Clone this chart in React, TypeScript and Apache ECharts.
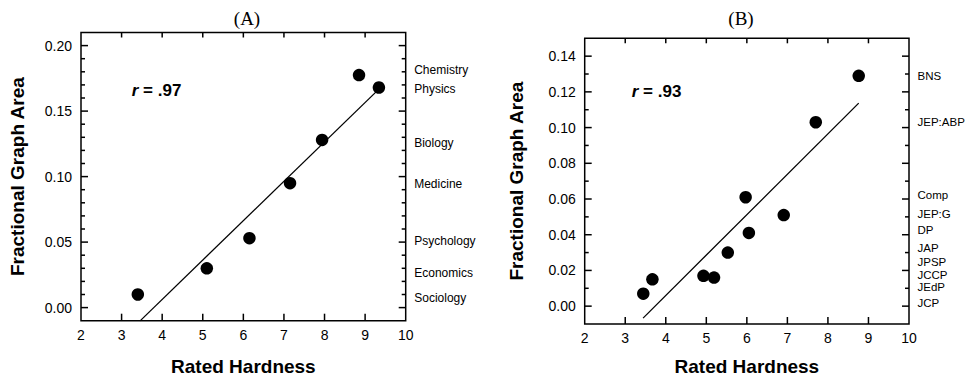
import React, { useEffect, useRef } from "react";
import * as echarts from "echarts";

// Panel A data
const hardnessA = [3.4, 5.1, 6.15, 7.15, 7.94, 8.85, 9.34];
const areaA = [0.01, 0.03, 0.053, 0.095, 0.128, 0.1775, 0.168];
const fitXA = [3.45, 9.34];
const fitYA = [-0.0103, 0.1668];
const fieldsA = ["Chemistry", "Physics", "Biology", "Medicine", "Psychology", "Economics", "Sociology"];
const fieldYA = [0.181, 0.167, 0.126, 0.094, 0.051, 0.0266, 0.0074];
const yMajorA = [0, 0.05, 0.1, 0.15, 0.2];
const yMinorA = [0.01, 0.02, 0.03, 0.04, 0.06, 0.07, 0.08, 0.09, 0.11, 0.12, 0.13, 0.14, 0.16, 0.17, 0.18, 0.19];
const rTextA = ".97";
const rPosA = [3.25, 0.166];

// Panel B data
const hardnessB = [3.445, 3.67, 4.93, 5.19, 5.53, 5.97, 6.05, 6.91, 7.7, 8.76];
const areaB = [0.007, 0.015, 0.017, 0.016, 0.03, 0.061, 0.041, 0.051, 0.103, 0.129];
const fitXB = [3.44, 8.76];
const fitYB = [-0.0067, 0.1137];
const journalsB = ["BNS", "JEP:ABP", "Comp", "JEP:G", "DP", "JAP", "JPSP", "JCCP", "JEdP", "JCP"];
const journalYB = [0.1288, 0.103, 0.0624, 0.0515, 0.0427, 0.0323, 0.0245, 0.0172, 0.011, 0.0017];
const yMajorB = [0, 0.02, 0.04, 0.06, 0.08, 0.1, 0.12, 0.14];
const yMinorB = [0.01, 0.03, 0.05, 0.07, 0.09, 0.11, 0.13];
const rTextB = ".93";
const rPosB = [3.16, 0.12];

const xTicks = [3, 4, 5, 6, 7, 8, 9];

const SANS = "'Liberation Sans', Arial, sans-serif";
const SERIF = "'Liberation Serif', 'Times New Roman', serif";
const TICK = { stroke: "#000", lineWidth: 1.5 };

// tick marks drawn through the axes' scales
function xTickSeries(idx: number) {
  return {
    type: "custom", xAxisIndex: idx, yAxisIndex: idx, silent: true, clip: false, z: 5,
    data: xTicks.map((x) => [x, 0]),
    renderItem: (params: any, api: any) => {
      const cs = params.coordSys;
      const px = api.coord([api.value(0), api.value(1)])[0];
      const bottom = cs.y + cs.height;
      return {
        type: "group",
        children: [
          { type: "line", shape: { x1: px, y1: bottom, x2: px, y2: bottom - 7 }, style: TICK },
          { type: "line", shape: { x1: px, y1: cs.y, x2: px, y2: cs.y + 5 }, style: TICK },
        ],
      };
    },
  };
}

function yTickSeries(idx: number, vals: number[], len: number) {
  return {
    type: "custom", xAxisIndex: idx, yAxisIndex: idx, silent: true, clip: false, z: 5,
    data: vals.map((v) => [2, v]),
    renderItem: (params: any, api: any) => {
      const cs = params.coordSys;
      const py = api.coord([api.value(0), api.value(1)])[1];
      const right = cs.x + cs.width;
      return {
        type: "group",
        children: [
          { type: "line", shape: { x1: cs.x, y1: py, x2: cs.x + len, y2: py }, style: TICK },
          { type: "line", shape: { x1: right, y1: py, x2: right - len, y2: py }, style: TICK },
        ],
      };
    },
  };
}

function panelSeries(
  idx: number, hx: number[], hy: number[], fx: number[], fy: number[],
  names: string[], nameY: number[], labelSize: number, rText: string, rPos: number[],
  major: number[], minor: number[]
) {
  return [
    xTickSeries(idx),
    yTickSeries(idx, major, 7),
    yTickSeries(idx, minor, 4),
    {
      type: "line", xAxisIndex: idx, yAxisIndex: idx, data: fx.map((x, i) => [x, fy[i]]),
      symbol: "none", lineStyle: { color: "#000", width: 1.3, opacity: 1 }, clip: true, silent: true,
    },
    {
      type: "scatter", xAxisIndex: idx, yAxisIndex: idx, data: hx.map((x, i) => [x, hy[i]]),
      symbolSize: 12.5, itemStyle: { color: "#000", opacity: 1 }, silent: true,
    },
    {
      type: "scatter", xAxisIndex: idx, yAxisIndex: idx, clip: false, silent: true,
      data: names.map((n, i) => ({ value: [10, nameY[i]], name: n })),
      symbolSize: 0, itemStyle: { color: "#000", opacity: 1 },
      label: {
        show: true, position: "right", distance: 8.5, formatter: (p: any) => p.name,
        color: "#000", opacity: 1, fontFamily: SANS, fontSize: labelSize,
      },
    },
    {
      type: "scatter", xAxisIndex: idx, yAxisIndex: idx, clip: false, silent: true,
      data: [{ value: rPos, name: rText }],
      symbolSize: 0, itemStyle: { color: "#000", opacity: 1 },
      label: {
        show: true, position: "right", distance: 0, opacity: 1,
        formatter: (p: any) => "{i|r}{b| = " + p.name + "}",
        rich: {
          i: { fontFamily: SANS, fontSize: 17, fontWeight: "bold", fontStyle: "italic", color: "#000" },
          b: { fontFamily: SANS, fontSize: 17, fontWeight: "bold", color: "#000" },
        },
      },
    },
  ];
}

function xAxisFor(gridIndex: number, nameGap: number) {
  return {
    type: "value", gridIndex, position: "bottom", min: 2, max: 10, interval: 1,
    axisLine: { show: false, onZero: false },
    axisTick: { show: false },
    axisLabel: { show: true, margin: 7, color: "#000", fontFamily: SANS, fontSize: 14 },
    splitLine: { show: false },
    name: "Rated Hardness", nameLocation: "middle", nameGap,
    nameTextStyle: { fontFamily: SANS, fontSize: 19, fontWeight: "bold", color: "#000" },
  };
}

function yAxisFor(gridIndex: number, min: number, max: number, major: number[], nameGap: number) {
  return {
    type: "value", gridIndex, position: "left", min, max,
    axisLine: { show: false, onZero: false },
    axisTick: { show: false },
    axisLabel: {
      show: true, customValues: major, margin: 9, color: "#000", fontFamily: SANS, fontSize: 14,
      formatter: (v: number) => v.toFixed(2),
    },
    splitLine: { show: false },
    name: "Fractional Graph Area", nameLocation: "middle", nameGap,
    nameTextStyle: { fontFamily: SANS, fontSize: 19, fontWeight: "bold", color: "#000" },
  };
}

export default function App() {
  const ref = useRef<HTMLDivElement>(null);
  useEffect(() => {
    document.body.style.margin = "0";
    if (!ref.current) return;
    const chart = echarts.init(ref.current, null, { renderer: "svg" });
    const frame = { show: true, borderColor: "#000", borderWidth: 1.5, backgroundColor: "transparent", containLabel: false };
    chart.setOption({
      animation: false,
      backgroundColor: "#fff",
      title: [
        { text: "(A)", left: 242, top: 4, textAlign: "center", textStyle: { fontFamily: SERIF, fontSize: 19, fontWeight: "normal", color: "#000" } },
        { text: "(B)", left: 736, top: 4, textAlign: "center", textStyle: { fontFamily: SERIF, fontSize: 19, fontWeight: "normal", color: "#000" } },
      ],
      grid: [
        { ...frame, left: 81, top: 32.5, width: 324.7, height: 288.2 },
        { ...frame, left: 584.7, top: 38.3, width: 324.3, height: 286.7 },
      ],
      xAxis: [xAxisFor(0, 36), xAxisFor(1, 33)],
      yAxis: [yAxisFor(0, -0.01, 0.21, yMajorA, 54), yAxisFor(1, -0.01, 0.15, yMajorB, 59)],
      series: [
        ...panelSeries(0, hardnessA, areaA, fitXA, fitYA, fieldsA, fieldYA, 12, rTextA, rPosA, yMajorA, yMinorA),
        ...panelSeries(1, hardnessB, areaB, fitXB, fitYB, journalsB, journalYB, 11.5, rTextB, rPosB, yMajorB, yMinorB),
      ],
    });
    return () => chart.dispose();
  }, []);
  return <div ref={ref} style={{ width: 971, height: 381 }} />;
}
